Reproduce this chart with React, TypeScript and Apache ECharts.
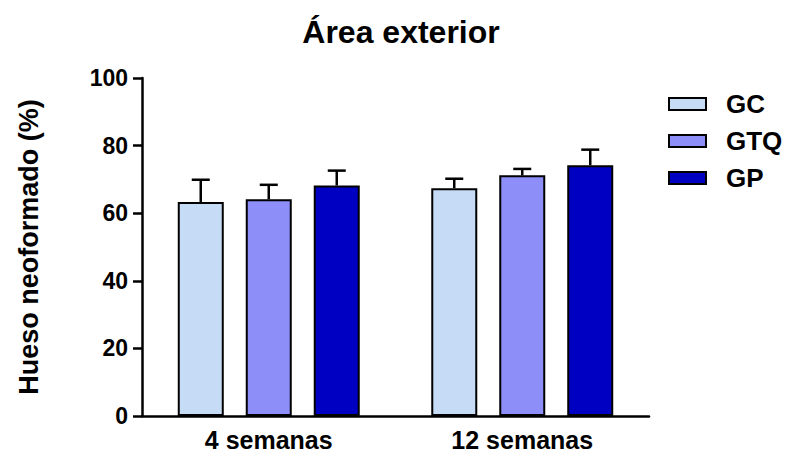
import React, { useEffect, useRef } from "react";
import * as echarts from "echarts";

const categories = ["4 semanas", "12 semanas"];
const groups = ["GC", "GTQ", "GP"];
const means = {
  GC: [63.3, 67.4],
  GTQ: [64.1, 71.2],
  GP: [68.2, 74.2],
};
const errors = {
  GC: [6.6, 2.8],
  GTQ: [4.3, 1.9],
  GP: [4.4, 4.6],
};
const yTicks = [0, 20, 40, 60, 80, 100];

const colors: Record<string, string> = { GC: "#C6DCF6", GTQ: "#8E8EF8", GP: "#0000C2" };
const FONT = "Liberation Sans";
const BAR_W = 46;
const BAR_GAP = 22;

export default function App() {
  const ref = useRef<HTMLDivElement>(null);
  useEffect(() => {
    if (!ref.current) return;
    const chart = echarts.init(ref.current, null, { renderer: "svg" });
    const barSeries = groups.map((g) => ({
      name: g,
      type: "bar",
      data: means[g as keyof typeof means],
      barWidth: BAR_W,
      barGap: ((BAR_GAP / BAR_W) * 100).toFixed(1) + "%",
      itemStyle: { color: colors[g], borderColor: "#000", borderWidth: 2 },
      z: 2,
    }));
    const errSeries = groups.map((g, gi) => ({
      name: g + "-err",
      type: "custom",
      z: 3,
      data: means[g as keyof typeof means].map((m, i) => [i, m, m + errors[g as keyof typeof errors][i]]),
      renderItem: (params: any, api: any) => {
        const ci = api.value(0);
        const base = api.coord([ci, api.value(1)]);
        const top = api.coord([ci, api.value(2)]);
        const x = base[0] + (gi - 1) * (BAR_W + BAR_GAP);
        const cap = 9;
        return {
          type: "group",
          children: [
            { type: "line", shape: { x1: x, y1: base[1], x2: x, y2: top[1] }, style: { stroke: "#000", lineWidth: 2.5 } },
            { type: "line", shape: { x1: x - cap, y1: top[1], x2: x + cap, y2: top[1] }, style: { stroke: "#000", lineWidth: 2.5 } },
          ],
        };
      },
    }));
    chart.setOption({
      animation: false,
      title: {
        text: "Área exterior",
        left: 396,
        textAlign: "center",
        top: 11,
        textStyle: { fontFamily: FONT, fontWeight: "bold", fontSize: 32, color: "#000" },
      },
      legend: {
        data: groups,
        orient: "vertical",
        left: 663,
        top: 86,
        itemWidth: 37,
        itemHeight: 12,
        itemGap: 11,
        icon: "rect",
        textStyle: { fontFamily: FONT, fontWeight: "bold", fontSize: 26, color: "#000", padding: [0, 0, 0, 15], lineHeight: 26 },
      },
      grid: { left: 142, right: 137, top: 78, bottom: 45 },
      xAxis: {
        type: "category",
        data: categories,
        axisLine: { lineStyle: { color: "#000", width: 2.5 } },
        axisTick: { show: false },
        axisLabel: { fontFamily: FONT, fontWeight: "bold", fontSize: 25, color: "#000", margin: 11 },
      },
      yAxis: {
        type: "value",
        min: yTicks[0],
        max: yTicks[yTicks.length - 1],
        interval: 20,
        name: "Hueso neoformado (%)",
        nameLocation: "middle",
        nameGap: 100,
        nameTextStyle: { fontFamily: FONT, fontWeight: "bold", fontSize: 27, color: "#000" },
        axisLine: { show: true, lineStyle: { color: "#000", width: 2.5 } },
        axisTick: { show: true, length: 9, lineStyle: { color: "#000", width: 2.5 } },
        splitLine: { show: false },
        axisLabel: { fontFamily: FONT, fontWeight: "bold", fontSize: 23, color: "#000", margin: 14 },
      },
      series: [...barSeries, ...errSeries],
    });
    return () => chart.dispose();
  }, []);
  return <div ref={ref} style={{ width: 786, height: 461, position: "absolute", left: 0, top: 0, background: "#fff" }} />;
}
